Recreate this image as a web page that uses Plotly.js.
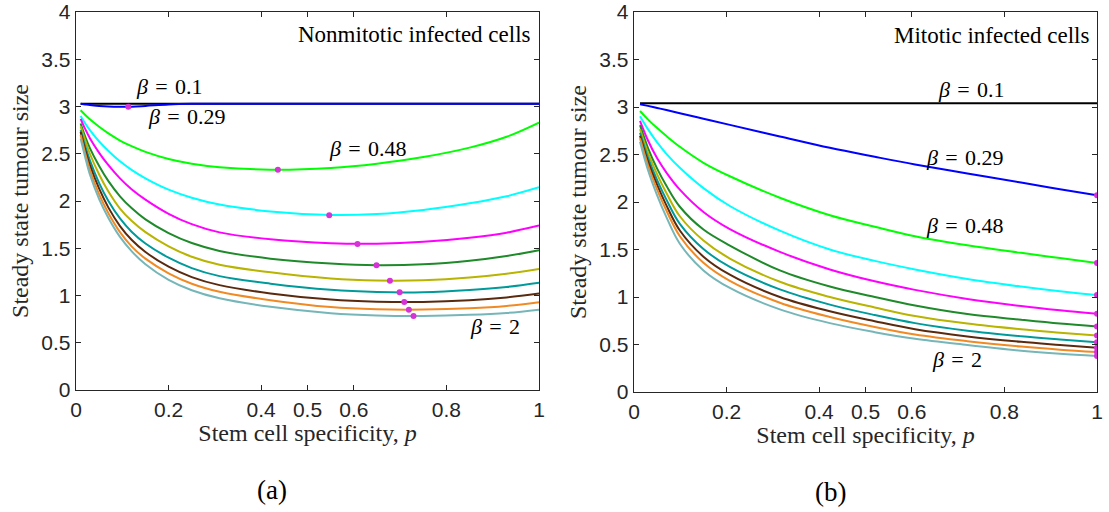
<!DOCTYPE html>
<html>
<head>
<meta charset="utf-8">
<script src="https://cdn.plot.ly/plotly-3.0.1.min.js"></script>
<style>html,body{margin:0;padding:0;background:#fff;}#chart{width:1109px;height:512px;}</style>
</head>
<body>
<div id="chart"></div>
<script>
// ---------- DATA ----------
const betaNames = ["0.1","0.29","0.48","0.67","0.86","1.05","1.24","1.43","1.62","1.81","2"];
const xTickVals = [0, 0.2, 0.4, 0.5, 0.6, 0.8, 1];
const xTickText = ["0","0.2","0.4","0.5","0.6","0.8","1"];
const yTickVals = [0, 0.5, 1, 1.5, 2, 2.5, 3, 3.5, 4];
const yTickText = ["0","0.5","1","1.5","2","2.5","3","3.5","4"];

// (a) Nonmitotic infected cells
const pLeft = [0.01, 0.02, 0.03, 0.05, 0.07, 0.095, 0.12, 0.15, 0.2, 0.25, 0.31, 0.42, 0.55, 0.65, 0.75, 0.85, 0.93, 1.0];
const leftB010 = [3.03, 3.03, 3.03, 3.03, 3.03, 3.03, 3.03, 3.03, 3.03, 3.03, 3.03, 3.03, 3.03, 3.03, 3.03, 3.03, 3.03, 3.03];
const leftB029 = [3.03, 3.022, 3.015, 3.006, 3.0, 2.997, 2.998, 3.006, 3.022, 3.029, 3.03, 3.03, 3.03, 3.03, 3.03, 3.03, 3.03, 3.03];
const leftB048 = [2.96, 2.91, 2.865, 2.785, 2.715, 2.64, 2.58, 2.52, 2.445, 2.395, 2.358, 2.332, 2.35, 2.395, 2.465, 2.565, 2.68, 2.83];
const leftB067 = [2.90, 2.82, 2.75, 2.63, 2.53, 2.42, 2.33, 2.24, 2.12, 2.035, 1.963, 1.89, 1.852, 1.862, 1.905, 1.975, 2.05, 2.145];
const leftB086 = [2.87, 2.76, 2.665, 2.51, 2.38, 2.24, 2.125, 2.015, 1.865, 1.755, 1.668, 1.595, 1.553, 1.548, 1.568, 1.612, 1.665, 1.74];
const leftB105 = [2.82, 2.68, 2.56, 2.37, 2.21, 2.05, 1.925, 1.805, 1.66, 1.555, 1.472, 1.39, 1.338, 1.32, 1.33, 1.368, 1.418, 1.48];
const leftB124 = [2.79, 2.64, 2.50, 2.28, 2.10, 1.92, 1.79, 1.67, 1.52, 1.41, 1.325, 1.245, 1.18, 1.159, 1.162, 1.19, 1.23, 1.28];
const leftB143 = [2.75, 2.58, 2.43, 2.19, 2.00, 1.815, 1.675, 1.55, 1.40, 1.29, 1.205, 1.125, 1.06, 1.037, 1.035, 1.058, 1.09, 1.135];
const leftB162 = [2.73, 2.54, 2.38, 2.13, 1.93, 1.735, 1.59, 1.46, 1.305, 1.195, 1.11, 1.022, 0.957, 0.935, 0.932, 0.95, 0.98, 1.02];
const leftB181 = [2.70, 2.50, 2.33, 2.07, 1.87, 1.67, 1.52, 1.39, 1.235, 1.125, 1.04, 0.95, 0.877, 0.854, 0.851, 0.865, 0.89, 0.93];
const leftB200 = [2.66, 2.46, 2.28, 2.02, 1.82, 1.62, 1.47, 1.33, 1.165, 1.055, 0.97, 0.88, 0.813, 0.789, 0.784, 0.795, 0.815, 0.85];
const leftMinP = [0.113, 0.436, 0.547, 0.608, 0.649, 0.678, 0.699, 0.709, 0.719, 0.729];
const leftMinV = [2.998, 2.33, 1.85, 1.545, 1.32, 1.157, 1.034, 0.931, 0.85, 0.783];

// (b) Mitotic infected cells
const pRight = [0.013, 0.03, 0.05, 0.07, 0.099, 0.15, 0.207, 0.315, 0.423, 0.52, 0.607, 0.72, 0.836, 0.92, 1.0];
const rightB010 = [3.04, 3.04, 3.04, 3.04, 3.04, 3.04, 3.04, 3.04, 3.04, 3.04, 3.04, 3.04, 3.04, 3.04, 3.04];
const rightB029 = [3.03, 3.012, 2.99, 2.968, 2.935, 2.877, 2.812, 2.69, 2.57, 2.476, 2.395, 2.30, 2.205, 2.135, 2.07];
const rightB048 = [2.958, 2.87, 2.778, 2.694, 2.581, 2.413, 2.271, 2.045, 1.861, 1.74, 1.64, 1.545, 1.465, 1.41, 1.357];
const rightB067 = [2.903, 2.767, 2.627, 2.507, 2.36, 2.146, 1.958, 1.698, 1.50, 1.38, 1.29, 1.19, 1.11, 1.06, 1.02];
const rightB086 = [2.854, 2.65, 2.46, 2.31, 2.13, 1.895, 1.715, 1.475, 1.29, 1.165, 1.075, 0.98, 0.905, 0.86, 0.823];
const rightB105 = [2.809, 2.571, 2.351, 2.171, 1.95, 1.71, 1.542, 1.28, 1.11, 1.00, 0.91, 0.82, 0.76, 0.72, 0.69];
const rightB124 = [2.767, 2.52, 2.29, 2.095, 1.85, 1.595, 1.405, 1.16, 1.00, 0.89, 0.80, 0.72, 0.66, 0.625, 0.594];
const rightB143 = [2.729, 2.47, 2.23, 2.025, 1.77, 1.505, 1.316, 1.08, 0.92, 0.81, 0.725, 0.645, 0.587, 0.553, 0.524];
const rightB162 = [2.698, 2.43, 2.18, 1.965, 1.70, 1.425, 1.235, 1.00, 0.85, 0.745, 0.66, 0.585, 0.528, 0.495, 0.465];
const rightB181 = [2.67, 2.39, 2.13, 1.91, 1.64, 1.36, 1.17, 0.94, 0.79, 0.685, 0.605, 0.535, 0.478, 0.445, 0.42];
const rightB200 = [2.635, 2.34, 2.07, 1.84, 1.56, 1.28, 1.095, 0.87, 0.725, 0.63, 0.56, 0.495, 0.435, 0.402, 0.378];

// ---------- STYLE ----------
const lineColors = ["#000000","#0000ff","#00ff00","#00ffff","#ff00ff","#1f8a2a","#b8b400","#009a9a","#5a2a0e","#f08a24","#76b6b8"];
const dotColor = "#d633d6";
const serif = "Liberation Serif, Times New Roman, serif";
const sans = "Liberation Sans, Arial, sans-serif";

const leftSeries = [leftB010,leftB029,leftB048,leftB067,leftB086,leftB105,leftB124,leftB143,leftB162,leftB181,leftB200];
const rightSeries = [rightB010,rightB029,rightB048,rightB067,rightB086,rightB105,rightB124,rightB143,rightB162,rightB181,rightB200];

const traces = [];
leftSeries.forEach((ys, i) => {
  traces.push({x: pLeft, y: ys, xaxis: "x", yaxis: "y", mode: "lines", name: "β = " + betaNames[i],
    line: {color: lineColors[i], width: 2, shape: "spline", smoothing: 1}, showlegend: false});
});
traces.push({x: leftMinP, y: leftMinV, xaxis: "x", yaxis: "y", mode: "markers", name: "minimum",
  marker: {color: dotColor, size: 6}, showlegend: false});
rightSeries.forEach((ys, i) => {
  traces.push({x: pRight, y: ys, xaxis: "x2", yaxis: "y2", mode: "lines", name: "β = " + betaNames[i],
    line: {color: lineColors[i], width: 2, shape: "spline", smoothing: 1}, showlegend: false});
});
traces.push({x: rightSeries.slice(1).map(() => pRight[pRight.length - 1]), y: rightSeries.slice(1).map(s => s[s.length - 1]),
  xaxis: "x2", yaxis: "y2", mode: "markers", name: "minimum",
  marker: {color: dotColor, size: 6}, showlegend: false});

function xax(domain, anchor) {
  return {domain: domain, anchor: anchor, range: [0, 1], tickvals: xTickVals, ticktext: xTickText,
    ticks: "inside", ticklen: 5, tickcolor: "#262626", tickwidth: 1, showline: true, linecolor: "#262626", linewidth: 1.3,
    mirror: "ticks", showgrid: false, zeroline: false, fixedrange: true, ticklabeloverflow: "allow",
    tickfont: {family: sans, size: 21, color: "#262626"},
    title: {text: "Stem cell specificity, <i>p</i>", font: {family: serif, size: 24, color: "#262626"}, standoff: 4}};
}
function yax(domain, anchor) {
  return {domain: domain, anchor: anchor, range: [0, 4], tickvals: yTickVals, ticktext: yTickText,
    ticks: "inside", ticklen: 5, tickcolor: "#262626", tickwidth: 1, showline: true, linecolor: "#262626", linewidth: 1.3,
    mirror: "ticks", showgrid: false, zeroline: false, fixedrange: true, ticklabeloverflow: "allow",
    tickfont: {family: sans, size: 21, color: "#262626"},
    title: {text: "Steady state tumour size", font: {family: serif, size: 24, color: "#262626"}, standoff: 6}};
}

function ann(x, y, xref, yref, text, xanchor, size) {
  return {x: x, y: y, xref: xref, yref: yref, text: text, showarrow: false,
    xanchor: xanchor || "center", yanchor: "middle", font: {family: serif, size: size || 22, color: "#000"}};
}
const b = (v) => "<i>β</i>\u2004=\u2004" + v;

const layout = {
  width: 1109, height: 512,
  margin: {l: 0, r: 0, t: 0, b: 0},
  paper_bgcolor: "#ffffff", plot_bgcolor: "#ffffff",
  showlegend: false,
  xaxis: xax([76/1109, 539/1109], "y"),
  yaxis: yax([122/512, 500/512], "x"),
  xaxis2: xax([634/1109, 1097/1109], "y2"),
  yaxis2: yax([120/512, 500/512], "x2"),
  annotations: [
    ann(0.987, 3.757, "x", "y", "Nonmitotic infected cells", "right", 23),
    ann(0.203, 3.21, "x", "y", b("0.1")),
    ann(0.24, 2.89, "x", "y", b("0.29")),
    ann(0.63, 2.56, "x", "y", b("0.48")),
    ann(0.905, 0.667, "x", "y", b("2")),
    ann(0.987, 3.75, "x2", "y2", "Mitotic infected cells", "right", 23),
    ann(0.73, 3.18, "x2", "y2", b("0.1")),
    ann(0.715, 2.47, "x2", "y2", b("0.29")),
    ann(0.715, 1.75, "x2", "y2", b("0.48")),
    ann(0.698, 0.344, "x2", "y2", b("2")),
    ann(272/1109, 1 - 490/512, "paper", "paper", "(a)", "center", 27),
    ann(830/1109, 1 - 492/512, "paper", "paper", "(b)", "center", 27)
  ]
};

Plotly.newPlot("chart", traces, layout, {displayModeBar: false, staticPlot: true});
</script>
</body>
</html>
